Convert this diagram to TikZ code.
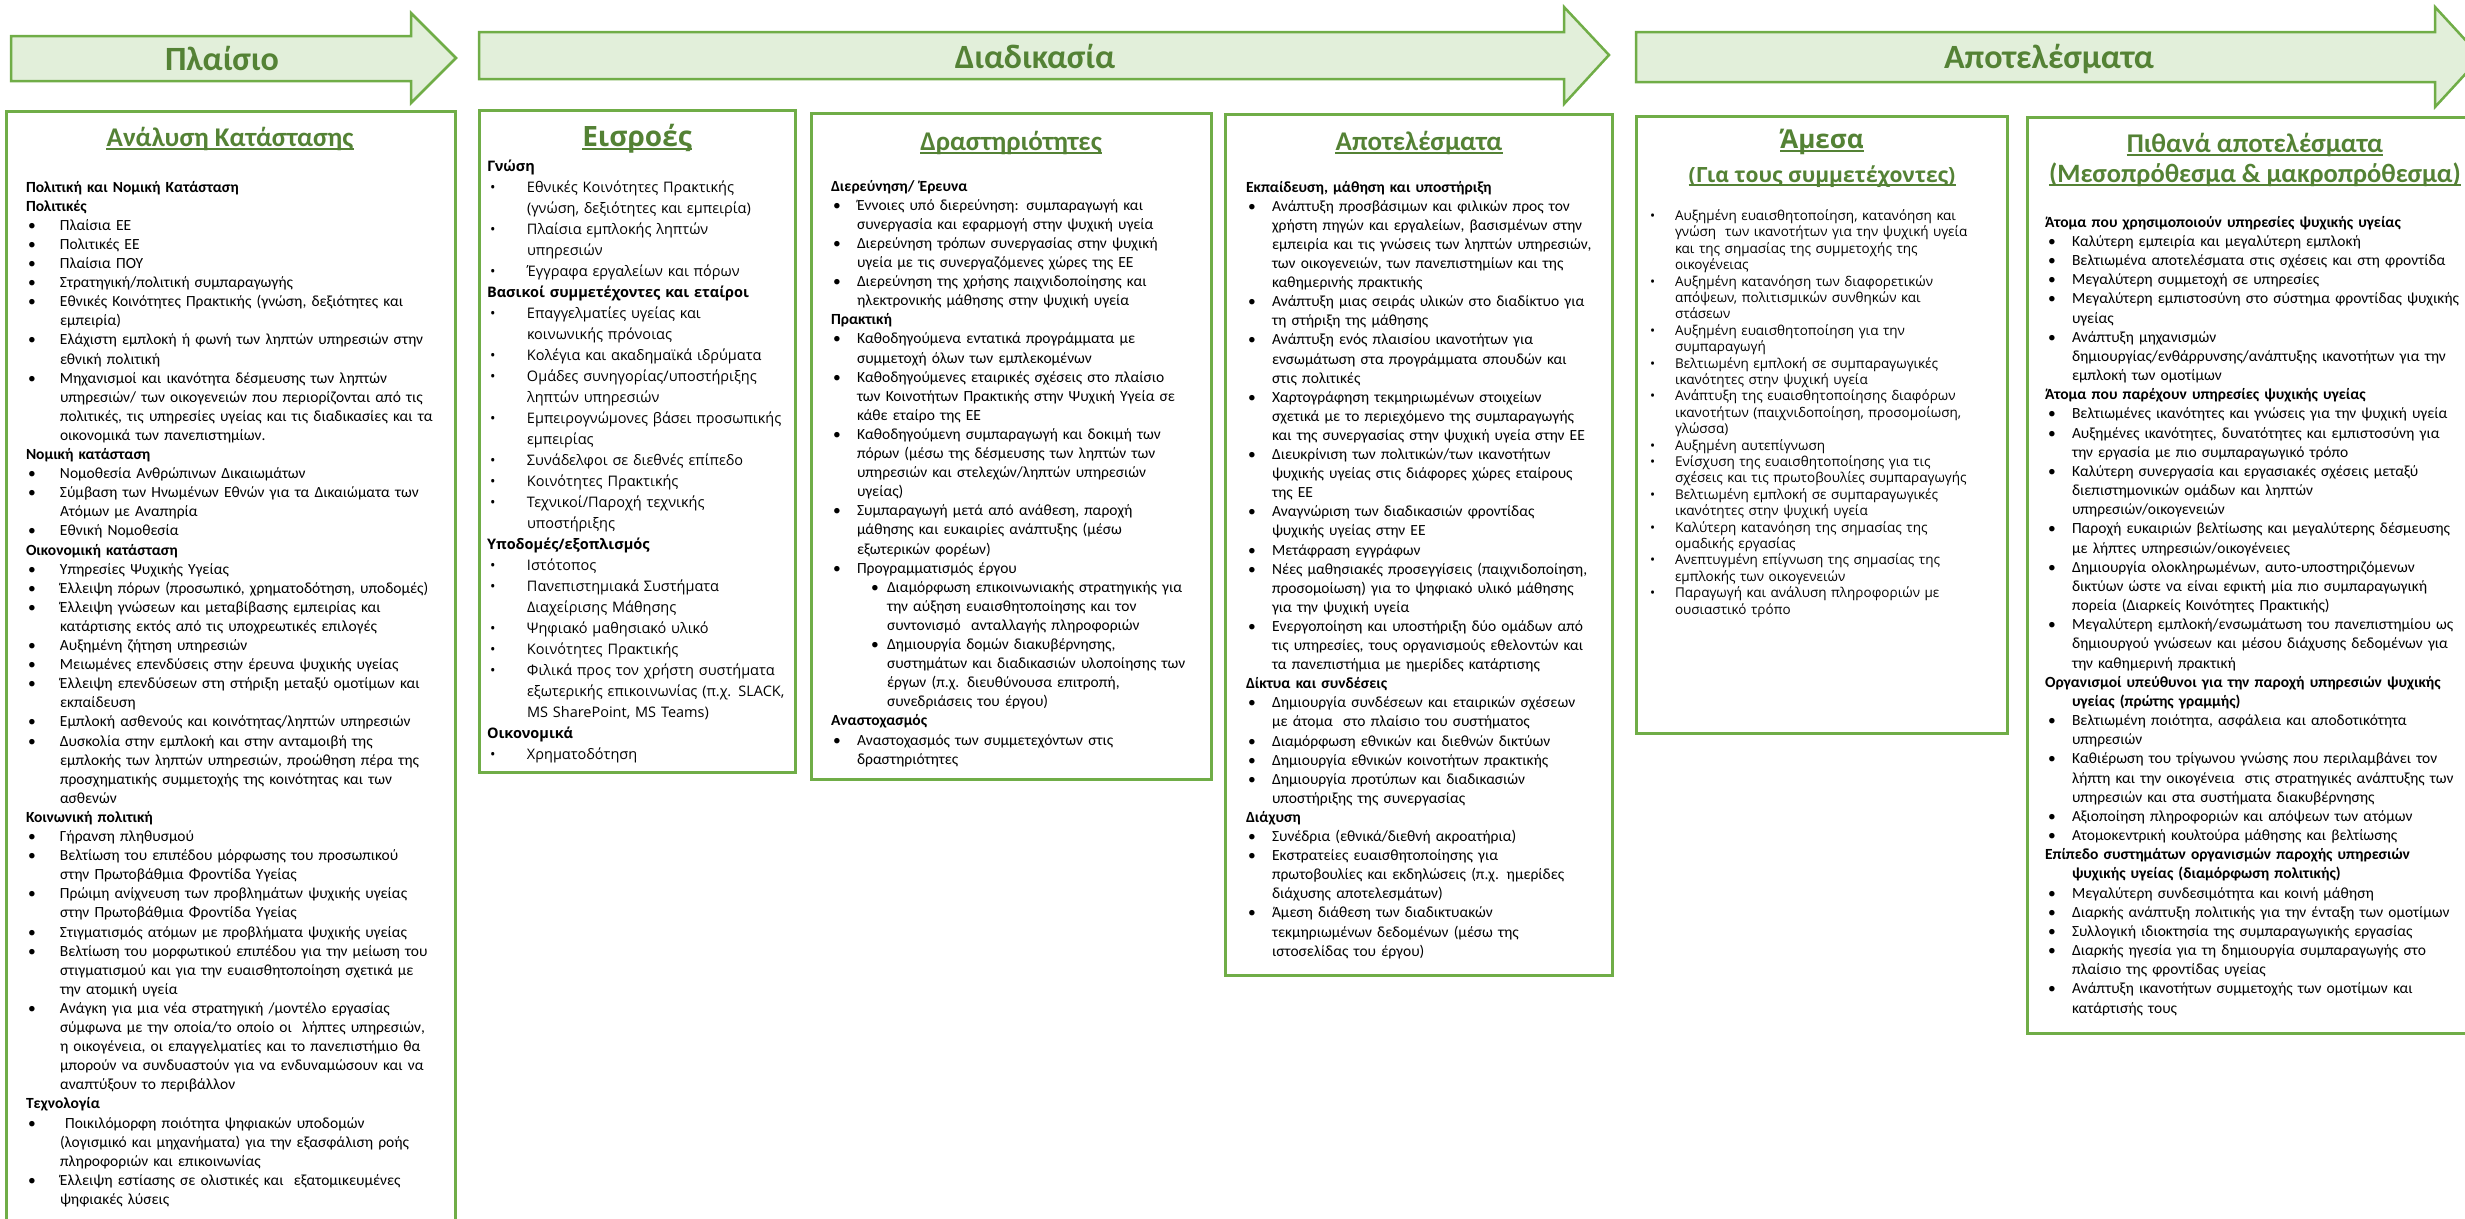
\documentclass[tikz,border=0pt]{standalone}
\usepackage{fontspec}
\setmainfont{Carlito}
\newfontfamily\osans{Open Sans}
\definecolor{boxgreen}{HTML}{70AD47}
\definecolor{arrowfill}{HTML}{E2EFDA}
\definecolor{titlegreen}{HTML}{548235}
\newlength\bo \newlength\bi \newlength\so \newlength\si \newlength\frh
\setlength\frh{14pt}
\newcommand\fr{\rule{0pt}{\frh}}
\newcommand{\hd}[1]{\par\noindent\fr\textbf{#1}\par}
\newcommand{\hdh}[1]{\par\noindent\hangindent=\bi\hangafter=1\fr\textbf{#1}\par}
\newcommand{\itm}[1]{\par\noindent\hangindent=\bi\hangafter=1\fr\makebox[\bi][l]{\hspace*{\bo}\textbullet}#1\par}
\newcommand{\sitm}[1]{\par\noindent\hangindent=\si\hangafter=1\fr\makebox[\si][l]{\hspace*{\so}\textbullet}#1\par}
\newcommand{\setup}{\parindent=0pt\parskip=0pt\lineskiplimit=-100pt\lineskip=0pt}
\newcommand{\ulnode}[1]{\draw[ulline] ([yshift=-3pt]#1.base west) -- ([yshift=-3pt]#1.base east);}
\tikzset{
  panel/.style={draw=boxgreen, line width=3pt},
  ulline/.style={draw=titlegreen, line width=1.8pt},
  arrowshape/.style={draw=boxgreen, fill=arrowfill, line width=2.5pt, line join=miter},
  title/.style={font=\bfseries\fontsize{34}{40}\selectfont, text=titlegreen, anchor=base, inner sep=0pt},
  heading/.style={font=\bfseries\fontsize{27}{32}\selectfont, text=titlegreen, anchor=base, inner sep=0pt},
  oheading/.style={font=\osans\bfseries\fontsize{#1}{#1}\selectfont, text=titlegreen, anchor=base, inner sep=0pt},
  body/.style={anchor=north west, inner sep=0pt, outer sep=0pt, text width=#1, align=left, font=\fontsize{15.5}{19.1}\selectfont},
  obody/.style 2 args={anchor=north west, inner sep=0pt, outer sep=0pt, text width=#1, align=left, font=\osans\fontsize{14.5}{#2}\selectfont},
}
\begin{document}
\begin{tikzpicture}[x=1pt,y=-1pt]
\useasboundingbox (0,0) rectangle (2465,1218);
\clip (0,0) rectangle (2465,1218);
% header arrows
\draw[arrowshape] (11,36) -- (411,36) -- (411,13) -- (456,58) -- (411,103) -- (411,81) -- (11,81) -- cycle;
\draw[arrowshape] (479,32) -- (1564,32) -- (1564,7) -- (1609,55) -- (1564,104) -- (1564,79) -- (479,79) -- cycle;
\draw[arrowshape] (1636,32) -- (2435,32) -- (2435,7) -- (2481,57) -- (2435,107) -- (2435,82) -- (1636,82) -- cycle;
\node[title] (t1) at (222,70) {Πλαίσιο};
\node[title] (t2) at (1035,68) {Διαδικασία};
\node[title] (t3) at (2049,68) {Αποτελέσματα};
% panels
\draw[panel] (6,111) rectangle (455,1240);
\draw[panel] (479,110) rectangle (795,772);
\draw[panel] (811,113) rectangle (1211,779);
\draw[panel] (1225,114) rectangle (1612,975);
\draw[panel] (1636,116) rectangle (2007,733);
\draw[panel] (2027,117) rectangle (2490,1033);
% headings
\node[heading] (h1) at (230,146) {Ανάλυση Κατάστασης};
\node[oheading=28] (h2) at (637,146) {Εισροές};
\node[heading] (h3) at (1011,150) {Δραστηριότητες};
\node[heading] (h4) at (1419,150) {Αποτελέσματα};
\node[oheading=26] (h5a) at (1822,148) {Άμεσα};
\node[oheading=21] (h5b) at (1822,182) {(Για τους συμμετέχοντες)};
\node[heading] (h6a) at (2255,152) {Πιθανά αποτελέσματα};
\node[heading, font=\bfseries\fontsize{26.5}{32}\selectfont] (h6b) at (2255,182) {(Μεσοπρόθεσμα \& μακροπρόθεσμα)};
\ulnode{h1}\ulnode{h2}\ulnode{h3}\ulnode{h4}\ulnode{h5a}\ulnode{h5b}\ulnode{h6a}\ulnode{h6b}
% box 1
\node[body=440pt] (b1) at (26,173) {\setup\setlength\bo{2pt}\setlength\bi{34pt}%
\hd{Πολιτική και Νομική Κατάσταση}
\hd{Πολιτικές}
\itm{Πλαίσια ΕΕ}
\itm{Πολιτικές ΕΕ}
\itm{Πλαίσια ΠΟΥ}
\itm{Στρατηγική/πολιτική συμπαραγωγής}
\itm{Εθνικές Κοινότητες Πρακτικής (γνώση, δεξιότητες και\newline εμπειρία)}
\itm{Ελάχιστη εμπλοκή ή φωνή των ληπτών υπηρεσιών στην\newline εθνική πολιτική}
\itm{Μηχανισμοί και ικανότητα δέσμευσης των ληπτών\newline υπηρεσιών/ των οικογενειών που περιορίζονται από τις\newline πολιτικές, τις υπηρεσίες υγείας και τις διαδικασίες και τα\newline οικονομικά των πανεπιστημίων.}
\hd{Νομική κατάσταση}
\itm{Νομοθεσία Ανθρώπινων Δικαιωμάτων}
\itm{Σύμβαση των Ηνωμένων Εθνών για τα Δικαιώματα των\newline Ατόμων με Αναπηρία}
\itm{Εθνική Νομοθεσία}
\hd{Οικονομική κατάσταση}
\itm{Υπηρεσίες Ψυχικής Υγείας}
\itm{Έλλειψη πόρων (προσωπικό, χρηματοδότηση, υποδομές)}
\itm{Έλλειψη γνώσεων και μεταβίβασης εμπειρίας και\newline κατάρτισης εκτός από τις υποχρεωτικές επιλογές}
\itm{Αυξημένη ζήτηση υπηρεσιών}
\itm{Μειωμένες επενδύσεις στην έρευνα ψυχικής υγείας}
\itm{Έλλειψη επενδύσεων στη στήριξη μεταξύ ομοτίμων και\newline εκπαίδευση}
\itm{Εμπλοκή ασθενούς και κοινότητας/ληπτών υπηρεσιών}
\itm{Δυσκολία στην εμπλοκή και στην ανταμοιβή της\newline εμπλοκής των ληπτών υπηρεσιών, προώθηση πέρα της\newline προσχηματικής συμμετοχής της κοινότητας και των\newline ασθενών}
\hd{Κοινωνική πολιτική}
\itm{Γήρανση πληθυσμού}
\itm{Βελτίωση του επιπέδου μόρφωσης του προσωπικού\newline στην Πρωτοβάθμια Φροντίδα Υγείας}
\itm{Πρώιμη ανίχνευση των προβλημάτων ψυχικής υγείας\newline στην Πρωτοβάθμια Φροντίδα Υγείας}
\itm{Στιγματισμός ατόμων με προβλήματα ψυχικής υγείας}
\itm{Βελτίωση του μορφωτικού επιπέδου για την μείωση του\newline στιγματισμού και για την ευαισθητοποίηση σχετικά με\newline την ατομική υγεία}
\itm{Ανάγκη για μια νέα στρατηγική /μοντέλο εργασίας\newline σύμφωνα με την οποία/το οποίο οι\ \ λήπτες υπηρεσιών,\newline η οικογένεια, οι επαγγελματίες και το πανεπιστήμιο θα\newline μπορούν να συνδυαστούν για να ενδυναμώσουν και να\newline αναπτύξουν το περιβάλλον}
\hd{Τεχνολογία}
\itm{\ Ποικιλόμορφη ποιότητα ψηφιακών υποδομών\newline (λογισμικό και μηχανήματα) για την εξασφάλιση ροής\newline πληροφοριών και επικοινωνίας}
\itm{Έλλειψη εστίασης σε ολιστικές και\ \ εξατομικευμένες\newline ψηφιακές λύσεις}
};
% box 2
\node[obody={300pt}{21}] (b2) at (487,150) {\setup\setlength\bo{3pt}\setlength\bi{40pt}%
\hd{Γνώση}
\itm{Εθνικές Κοινότητες Πρακτικής\newline (γνώση, δεξιότητες και εμπειρία)}
\itm{Πλαίσια εμπλοκής ληπτών\newline υπηρεσιών}
\itm{Έγγραφα εργαλείων και πόρων}
\hd{Βασικοί συμμετέχοντες και εταίροι}
\itm{Επαγγελματίες υγείας και\newline κοινωνικής πρόνοιας}
\itm{Κολέγια και ακαδημαϊκά ιδρύματα}
\itm{Ομάδες συνηγορίας/υποστήριξης\newline ληπτών υπηρεσιών}
\itm{Εμπειρογνώμονες βάσει προσωπικής\newline εμπειρίας}
\itm{Συνάδελφοι σε διεθνές επίπεδο}
\itm{Κοινότητες Πρακτικής}
\itm{Τεχνικοί/Παροχή τεχνικής\newline υποστήριξης}
\hd{Υποδομές/εξοπλισμός}
\itm{Ιστότοπος}
\itm{Πανεπιστημιακά Συστήματα\newline Διαχείρισης Μάθησης}
\itm{Ψηφιακό μαθησιακό υλικό}
\itm{Κοινότητες Πρακτικής}
\itm{Φιλικά προς τον χρήστη συστήματα\newline εξωτερικής επικοινωνίας (π.χ. SLACK,\newline MS SharePoint, MS Teams)}
\hd{Οικονομικά}
\itm{Χρηματοδότηση}
};
% box 3
\node[body=390pt] (b3) at (831,172) {\setup\setlength\bo{2pt}\setlength\bi{26pt}\setlength\so{40pt}\setlength\si{56pt}%
\hd{Διερεύνηση/ Έρευνα}
\itm{Έννοιες υπό διερεύνηση: συμπαραγωγή και\newline συνεργασία και εφαρμογή στην ψυχική υγεία}
\itm{Διερεύνηση τρόπων συνεργασίας στην ψυχική\newline υγεία με τις συνεργαζόμενες χώρες της ΕΕ}
\itm{Διερεύνηση της χρήσης παιχνιδοποίησης και\newline ηλεκτρονικής μάθησης στην ψυχική υγεία}
\hd{Πρακτική}
\itm{Καθοδηγούμενα εντατικά προγράμματα με\newline συμμετοχή όλων των εμπλεκομένων}
\itm{Καθοδηγούμενες εταιρικές σχέσεις στο πλαίσιο\newline των Κοινοτήτων Πρακτικής στην Ψυχική Υγεία σε\newline κάθε εταίρο της ΕΕ}
\itm{Καθοδηγούμενη συμπαραγωγή και δοκιμή των\newline πόρων (μέσω της δέσμευσης των ληπτών των\newline υπηρεσιών και στελεχών/ληπτών υπηρεσιών\newline υγείας)}
\itm{Συμπαραγωγή μετά από ανάθεση, παροχή\newline μάθησης και ευκαιρίες ανάπτυξης (μέσω\newline εξωτερικών φορέων)}
\itm{Προγραμματισμός έργου}
\sitm{Διαμόρφωση επικοινωνιακής στρατηγικής για\newline την αύξηση ευαισθητοποίησης και τον\newline συντονισμό\ \ ανταλλαγής πληροφοριών}
\sitm{Δημιουργία δομών διακυβέρνησης,\newline συστημάτων και διαδικασιών υλοποίησης των\newline έργων (π.χ. διευθύνουσα επιτροπή,\newline συνεδριάσεις του έργου)}
\hd{Αναστοχασμός}
\itm{Αναστοχασμός των συμμετεχόντων στις\newline δραστηριότητες}
};
% box 4
\node[body=380pt] (b4) at (1246,173) {\setup\setlength\bo{2pt}\setlength\bi{26pt}%
\hd{Εκπαίδευση, μάθηση και υποστήριξη}
\itm{Ανάπτυξη προσβάσιμων και φιλικών προς τον\newline χρήστη πηγών και εργαλείων, βασισμένων στην\newline εμπειρία και τις γνώσεις των ληπτών υπηρεσιών,\newline των οικογενειών, των πανεπιστημίων και της\newline καθημερινής πρακτικής}
\itm{Ανάπτυξη μιας σειράς υλικών στο διαδίκτυο για\newline τη στήριξη της μάθησης}
\itm{Ανάπτυξη ενός πλαισίου ικανοτήτων για\newline ενσωμάτωση στα προγράμματα σπουδών και\newline στις πολιτικές}
\itm{Χαρτογράφηση τεκμηριωμένων στοιχείων\newline σχετικά με το περιεχόμενο της συμπαραγωγής\newline και της συνεργασίας στην ψυχική υγεία στην ΕΕ}
\itm{Διευκρίνιση των πολιτικών/των ικανοτήτων\newline ψυχικής υγείας στις διάφορες χώρες εταίρους\newline της ΕΕ}
\itm{Αναγνώριση των διαδικασιών φροντίδας\newline ψυχικής υγείας στην ΕΕ}
\itm{Μετάφραση εγγράφων}
\itm{Νέες μαθησιακές προσεγγίσεις (παιχνιδοποίηση,\newline προσομοίωση) για το ψηφιακό υλικό μάθησης\newline για την ψυχική υγεία}
\itm{Ενεργοποίηση και υποστήριξη δύο ομάδων από\newline τις υπηρεσίες, τους οργανισμούς εθελοντών και\newline τα πανεπιστήμια με ημερίδες κατάρτισης}
\hd{Δίκτυα και συνδέσεις}
\itm{Δημιουργία συνδέσεων και εταιρικών σχέσεων\newline με άτομα\ \ στο πλαίσιο του συστήματος}
\itm{Διαμόρφωση εθνικών και διεθνών δικτύων}
\itm{Δημιουργία εθνικών κοινοτήτων πρακτικής}
\itm{Δημιουργία προτύπων και διαδικασιών\newline υποστήριξης της συνεργασίας}
\hd{Διάχυση}
\itm{Συνέδρια (εθνικά/διεθνή ακροατήρια)}
\itm{Εκστρατείες ευαισθητοποίησης για\newline πρωτοβουλίες και εκδηλώσεις (π.χ. ημερίδες\newline διάχυσης αποτελεσμάτων)}
\itm{Άμεση διάθεση των διαδικτυακών\newline τεκμηριωμένων δεδομένων (μέσω της\newline ιστοσελίδας του έργου)}
};
% box 5
\node[obody={360pt}{16.4}, font=\osans\fontsize{13.5}{16.4}\selectfont] (b5) at (1650,204) {\setup\setlength\frh{12pt}\setlength\bo{0pt}\setlength\bi{25pt}%
\itm{Αυξημένη ευαισθητοποίηση, κατανόηση και\newline γνώση\ \ των ικανοτήτων για την ψυχική υγεία\newline και της σημασίας της συμμετοχής της\newline οικογένειας}
\itm{Αυξημένη κατανόηση των διαφορετικών\newline απόψεων, πολιτισμικών συνθηκών και\newline στάσεων}
\itm{Αυξημένη ευαισθητοποίηση για την\newline συμπαραγωγή}
\itm{Βελτιωμένη εμπλοκή σε συμπαραγωγικές\newline ικανότητες στην ψυχική υγεία}
\itm{Ανάπτυξη της ευαισθητοποίησης διαφόρων\newline ικανοτήτων (παιχνιδοποίηση, προσομοίωση,\newline γλώσσα)}
\itm{Αυξημένη αυτεπίγνωση}
\itm{Ενίσχυση της ευαισθητοποίησης για τις\newline σχέσεις και τις πρωτοβουλίες συμπαραγωγής}
\itm{Βελτιωμένη εμπλοκή σε συμπαραγωγικές\newline ικανότητες στην ψυχική υγεία}
\itm{Καλύτερη κατανόηση της σημασίας της\newline ομαδικής εργασίας}
\itm{Ανεπτυγμένη επίγνωση της σημασίας της\newline εμπλοκής των οικογενειών}
\itm{Παραγωγή και ανάλυση πληροφοριών με\newline ουσιαστικό τρόπο}
};
% box 6
\node[body=440pt, font=\fontsize{15.5}{19.17}\selectfont] (b6) at (2045,208) {\setup\setlength\bo{3pt}\setlength\bi{27pt}%
\hd{Άτομα που χρησιμοποιούν υπηρεσίες ψυχικής υγείας}
\itm{Καλύτερη εμπειρία και μεγαλύτερη εμπλοκή}
\itm{Βελτιωμένα αποτελέσματα στις σχέσεις και στη φροντίδα}
\itm{Μεγαλύτερη συμμετοχή σε υπηρεσίες}
\itm{Μεγαλύτερη εμπιστοσύνη στο σύστημα φροντίδας ψυχικής\newline υγείας}
\itm{Ανάπτυξη μηχανισμών\newline δημιουργίας/ενθάρρυνσης/ανάπτυξης ικανοτήτων για την\newline εμπλοκή των ομοτίμων}
\hd{Άτομα που παρέχουν υπηρεσίες ψυχικής υγείας}
\itm{Βελτιωμένες ικανότητες και γνώσεις για την ψυχική υγεία}
\itm{Αυξημένες ικανότητες, δυνατότητες και εμπιστοσύνη για\newline την εργασία με πιο συμπαραγωγικό τρόπο}
\itm{Καλύτερη συνεργασία και εργασιακές σχέσεις μεταξύ\newline διεπιστημονικών ομάδων και ληπτών\newline υπηρεσιών/οικογενειών}
\itm{Παροχή ευκαιριών βελτίωσης και μεγαλύτερης δέσμευσης\newline με λήπτες υπηρεσιών/οικογένειες}
\itm{Δημιουργία ολοκληρωμένων, αυτο-υποστηριζόμενων\newline δικτύων ώστε να είναι εφικτή μία πιο συμπαραγωγική\newline πορεία (Διαρκείς Κοινότητες Πρακτικής)}
\itm{Μεγαλύτερη εμπλοκή/ενσωμάτωση του πανεπιστημίου ως\newline δημιουργού γνώσεων και μέσου διάχυσης δεδομένων για\newline την καθημερινή πρακτική}
\hdh{Οργανισμοί υπεύθυνοι για την παροχή υπηρεσιών ψυχικής\newline υγείας (πρώτης γραμμής)}
\itm{Βελτιωμένη ποιότητα, ασφάλεια και αποδοτικότητα\newline υπηρεσιών}
\itm{Καθιέρωση του τρίγωνου γνώσης που περιλαμβάνει τον\newline λήπτη και την οικογένεια\ \ στις στρατηγικές ανάπτυξης των\newline υπηρεσιών και στα συστήματα διακυβέρνησης}
\itm{Αξιοποίηση πληροφοριών και απόψεων των ατόμων}
\itm{Ατομοκεντρική κουλτούρα μάθησης και βελτίωσης}
\hdh{Επίπεδο συστημάτων οργανισμών παροχής υπηρεσιών\newline ψυχικής υγείας (διαμόρφωση πολιτικής)}
\itm{Μεγαλύτερη συνδεσιμότητα και κοινή μάθηση}
\itm{Διαρκής ανάπτυξη πολιτικής για την ένταξη των ομοτίμων}
\itm{Συλλογική ιδιοκτησία της συμπαραγωγικής εργασίας}
\itm{Διαρκής ηγεσία για τη δημιουργία συμπαραγωγής στο\newline πλαίσιο της φροντίδας υγείας}
\itm{Ανάπτυξη ικανοτήτων συμμετοχής των ομοτίμων και\newline κατάρτισής τους}
};
\end{tikzpicture}
\end{document}
